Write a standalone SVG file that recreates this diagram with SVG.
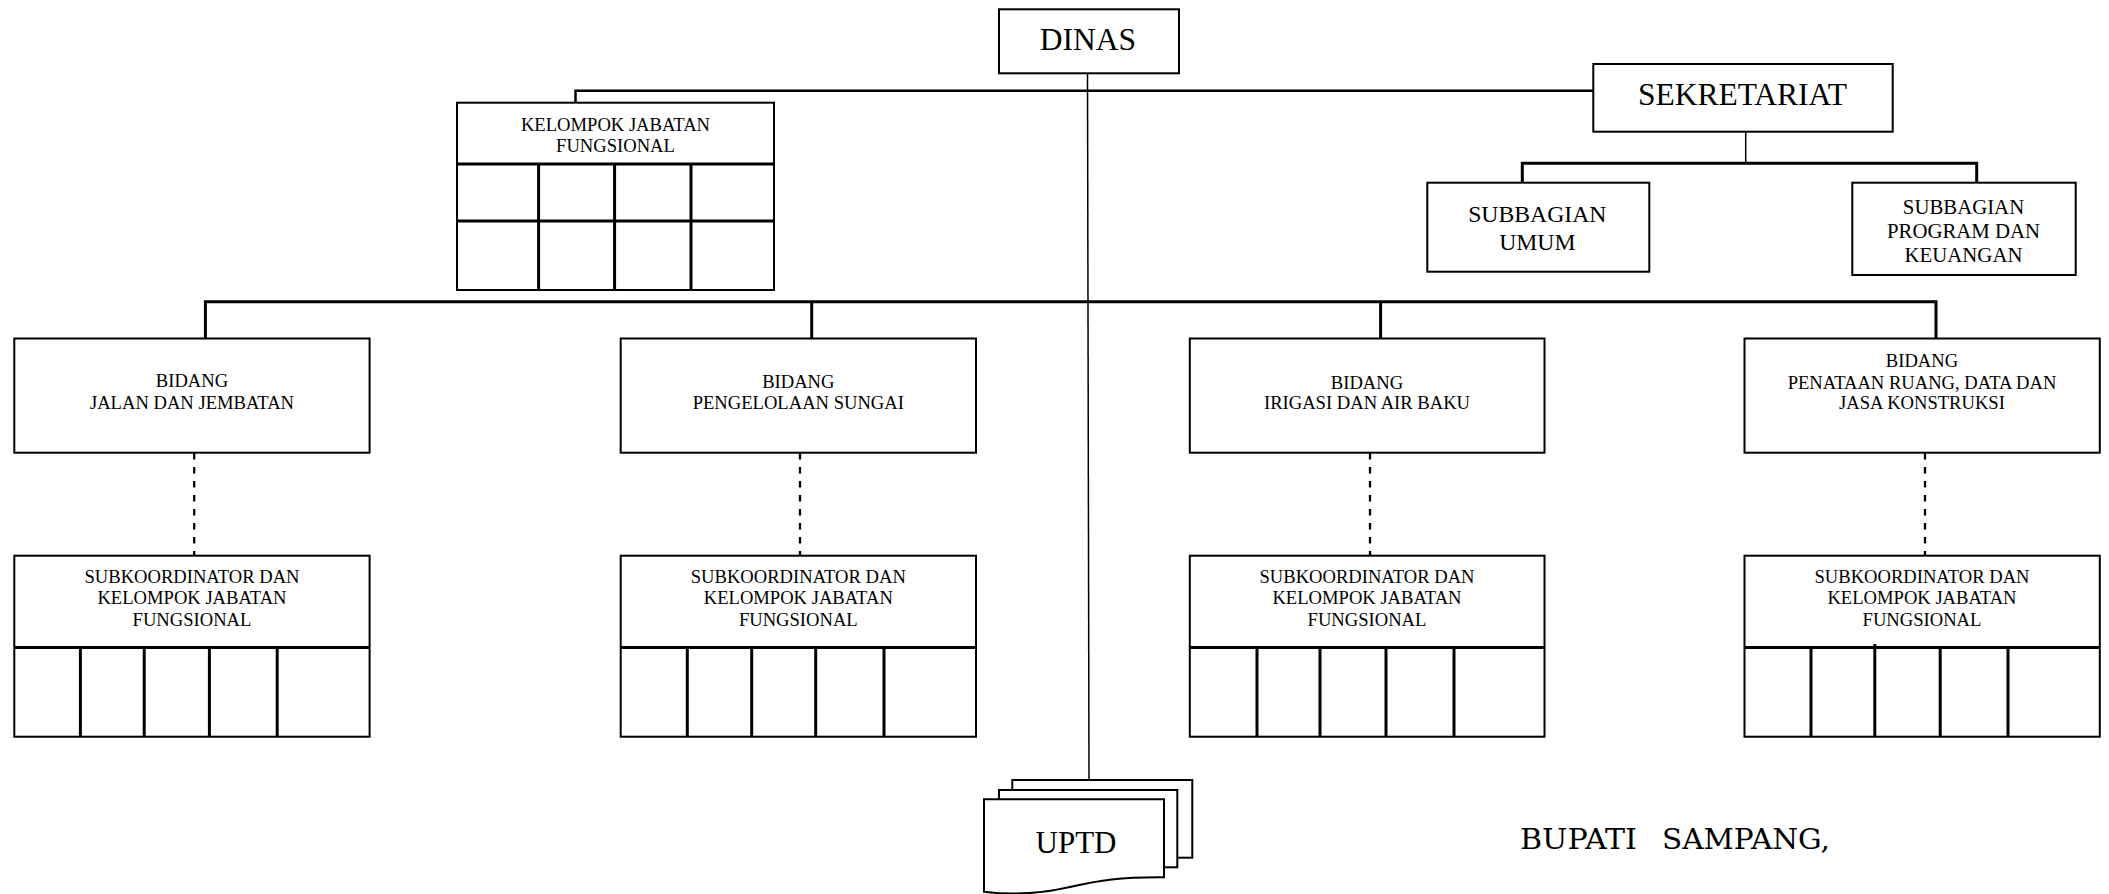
<svg xmlns="http://www.w3.org/2000/svg" width="2109" height="894" viewBox="0 0 2109 894">
  <style>
    .box { fill: #fff; stroke: #000; stroke-width: 2; }
    .grid { fill: none; stroke: #000; stroke-width: 3; }
    .conn { fill: none; stroke: #000; stroke-width: 2.5; }
    .bus { fill: none; stroke: #000; stroke-width: 3; }
    .thin { fill: none; stroke: #000; stroke-width: 1.5; }
    .dash { fill: none; stroke: #000; stroke-width: 2.3; stroke-dasharray: 6.5 7.5; }
    text { font-family: "Liberation Serif", "Times New Roman", serif; fill: #000; text-anchor: middle; }
    .big { font-size: 31.5px; }
    .mid { font-size: 23.7px; }
    .sub { font-size: 20.8px; }
    .sm { font-size: 18.6px; }
    .sign { font-family: "DejaVu Serif", serif; font-size: 27.4px; text-anchor: start; }
  </style>

  <rect width="2109" height="894" fill="#fff"/>

  <!-- connectors -->
  <g id="connectors">
    <path class="thin" d="M1087.5,73.3 L1089,780"/>
    <path class="conn" d="M575.5,102.7 V90.7 H1593.3"/>
    <path class="thin" d="M1745.7,117.3 V163.3"/>
    <path class="bus" d="M1522.3,182.7 V163.3 H1976.7 V182.7"/>
    <path class="bus" d="M205.4,338.5 V301.7 H1936 V338.5"/>
    <path class="bus" d="M811.7,301.7 V338.5"/>
    <path class="bus" d="M1380.6,301.7 V338.5"/>
    <path class="dash" d="M194.2,453 V555.7"/>
    <path class="dash" d="M800,453 V555.7"/>
    <path class="dash" d="M1370,453 V555.7"/>
    <path class="dash" d="M1925,453 V555.7"/>
  </g>

  <g id="dinas">
    <rect class="box" x="999" y="9.3" width="180" height="64"/>
    <text class="big" x="1088" y="50">DINAS</text>
  </g>

  <g id="sekretariat">
    <rect class="box" x="1593.3" y="64" width="299.4" height="67.7"/>
    <text class="big" x="1742.5" y="105">SEKRETARIAT</text>
  </g>

  <g id="subbagian-umum">
    <rect class="box" x="1427.3" y="182.7" width="222" height="89"/>
    <text class="mid" x="1537.3" y="221.7">SUBBAGIAN</text>
    <text class="mid" x="1537.3" y="250">UMUM</text>
  </g>

  <g id="subbagian-program">
    <rect class="box" x="1852.3" y="182.7" width="223.4" height="92.3"/>
    <text class="sub" x="1963.5" y="214.3">SUBBAGIAN</text>
    <text class="sub" x="1963.5" y="238.3">PROGRAM DAN</text>
    <text class="sub" x="1963.5" y="262.3">KEUANGAN</text>
  </g>

  <g id="kelompok-jabatan-fungsional">
    <rect class="box" x="457" y="102.7" width="317" height="187.3"/>
    <path class="grid" d="M457,164 H774 M457,221 H774 M538.6,164 V290 M614.6,164 V290 M691,164 V290"/>
    <text class="sm" x="615.5" y="131">KELOMPOK JABATAN</text>
    <text class="sm" x="615.5" y="151.7">FUNGSIONAL</text>
  </g>

  <g id="bidang-jalan">
    <rect class="box" x="14.3" y="338.5" width="355.3" height="114.2"/>
    <text class="sm" x="192" y="387.3">BIDANG</text>
    <text class="sm" x="192" y="409">JALAN DAN JEMBATAN</text>
  </g>

  <g id="bidang-sungai">
    <rect class="box" x="620.7" y="338.5" width="355.3" height="114.2"/>
    <text class="sm" x="798.3" y="388.3">BIDANG</text>
    <text class="sm" x="798.3" y="409.3">PENGELOLAAN SUNGAI</text>
  </g>

  <g id="bidang-irigasi">
    <rect class="box" x="1189.8" y="338.5" width="354.7" height="114.2"/>
    <text class="sm" x="1367" y="389">BIDANG</text>
    <text class="sm" x="1367" y="409">IRIGASI DAN AIR BAKU</text>
  </g>

  <g id="bidang-penataan">
    <rect class="box" x="1744.5" y="338.5" width="355.3" height="114.2"/>
    <text class="sm" x="1922" y="366.7">BIDANG</text>
    <text class="sm" x="1922" y="389">PENATAAN RUANG, DATA DAN</text>
    <text class="sm" x="1922" y="409">JASA KONSTRUKSI</text>
  </g>

  <g id="subkoordinator-jalan">
    <rect class="box" x="14.3" y="555.7" width="355.3" height="181"/>
    <path class="grid" d="M14.3,647.5 H369.6 M80.4,647.5 V736.7 M144.2,647.5 V736.7 M209.4,647.5 V736.7 M277.2,647.5 V736.7"/>
    <text class="sm" x="192" y="583">SUBKOORDINATOR DAN</text>
    <text class="sm" x="192" y="604.3">KELOMPOK JABATAN</text>
    <text class="sm" x="192" y="625.5">FUNGSIONAL</text>
  </g>

  <g id="subkoordinator-sungai">
    <rect class="box" x="620.7" y="555.7" width="355.3" height="181"/>
    <path class="grid" d="M620.7,647.5 H976 M687.3,647.5 V736.7 M751.7,647.5 V736.7 M815.7,647.5 V736.7 M884,647.5 V736.7"/>
    <text class="sm" x="798.3" y="583">SUBKOORDINATOR DAN</text>
    <text class="sm" x="798.3" y="604.3">KELOMPOK JABATAN</text>
    <text class="sm" x="798.3" y="625.5">FUNGSIONAL</text>
  </g>

  <g id="subkoordinator-irigasi">
    <rect class="box" x="1189.8" y="555.7" width="354.7" height="181"/>
    <path class="grid" d="M1189.8,647.5 H1544.5 M1257,647.5 V736.7 M1320,647.5 V736.7 M1386,647.5 V736.7 M1454,647.5 V736.7"/>
    <text class="sm" x="1367" y="583">SUBKOORDINATOR DAN</text>
    <text class="sm" x="1367" y="604.3">KELOMPOK JABATAN</text>
    <text class="sm" x="1367" y="625.5">FUNGSIONAL</text>
  </g>

  <g id="subkoordinator-penataan">
    <rect class="box" x="1744.5" y="555.7" width="355.3" height="181"/>
    <path class="grid" d="M1744.5,647.5 H2099.8 M1811,647.5 V736.7 M1874.8,644 V736.7 M1940.2,647.5 V736.7 M2008,647.5 V736.7"/>
    <text class="sm" x="1922" y="583">SUBKOORDINATOR DAN</text>
    <text class="sm" x="1922" y="604.3">KELOMPOK JABATAN</text>
    <text class="sm" x="1922" y="625.5">FUNGSIONAL</text>
  </g>

  <!-- stacked document symbol -->
  <g id="uptd">
    <rect class="box" x="1012.3" y="780" width="180" height="77.7"/>
    <rect class="box" x="999" y="790" width="178.3" height="77.3"/>
    <path class="box" d="M984,799.3 H1164 V877.3 C1120,877 1100,880 1070,887 C1040,894 1010,895 984,891.7 Z"/>
    <text class="big" x="1076" y="853.3" style="font-size:31px">UPTD</text>
  </g>

  <g id="signature">
    <text class="sign" x="1520" y="849.3" textLength="117" lengthAdjust="spacingAndGlyphs">BUPATI</text>
    <text class="sign" x="1662" y="849.3" textLength="168" lengthAdjust="spacingAndGlyphs">SAMPANG,</text>
  </g>
</svg>
